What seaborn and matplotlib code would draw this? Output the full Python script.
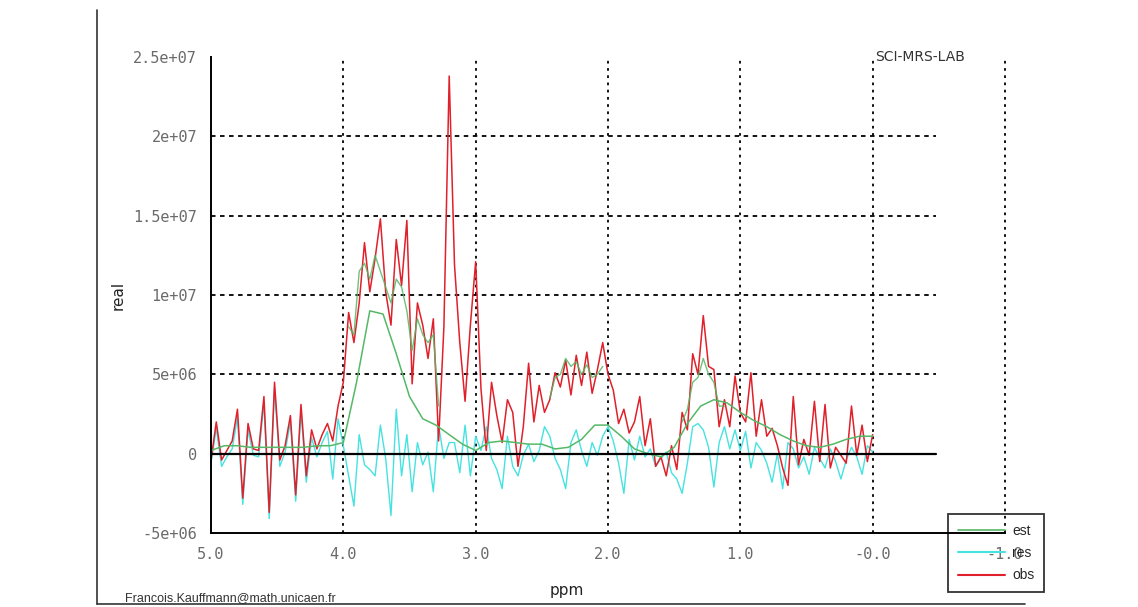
import numpy as np
import pandas as pd
import matplotlib
matplotlib.use('Agg')
import matplotlib.pyplot as plt
from matplotlib.lines import Line2D
import seaborn as sns

# chemical shift grids (ppm), values in units of 1e6
ppm_obs = np.linspace(5.0, 0.0, 126)
ppm_est = np.linspace(5.0, 0.0, 51)

obs = [
    # 5.00 -> 4.04
    -0.4, 2.0, -0.4, 0.2, 0.8, 2.8, -2.8, 1.9, 0.3, 0.2, 3.6, -3.7, 4.5,
    -0.4, 0.5, 2.4, -2.6, 3.1, -1.4, 1.5, 0.3, 1.2, 1.9, 0.8, 3.0,
    # 4.00 -> 3.04
    4.5, 8.9, 7.0, 9.5, 13.3, 10.2, 12.3, 14.8, 10.2, 8.1, 13.5, 10.6, 14.7,
    4.4, 9.5, 8.1, 6.0, 8.5, 0.8, 8.0, 23.8, 11.9, 7.0, 3.3, 8.1,
    # 3.00 -> 2.04
    12.1, 4.1, 0.2, 4.5, 2.4, 0.7, 3.4, 2.6, -0.8, 1.7, 5.7, 2.0, 4.3,
    2.6, 3.4, 5.1, 4.2, 5.9, 3.7, 6.2, 4.3, 6.4, 3.8, 5.3, 7.0,
    # 2.00 -> 1.04
    5.0, 4.0, 1.9, 2.8, 1.3, 2.0, 3.6, 0.5, 2.2, -0.8, -0.2, -1.4, 0.5,
    -1.0, 2.6, 1.5, 6.3, 5.0, 8.7, 5.5, 5.3, 1.7, 3.4, 1.7, 4.9,
    # 1.00 -> 0.00
    2.6, 2.0, 5.1, 1.1, 3.4, 1.1, 1.6, 0.5, -0.9, -2.0, 3.6, -0.7, 0.9,
    -0.1, 3.3, -0.5, 3.1, -0.9, 0.4, -0.1, -0.6, 3.0, -0.1, 1.8, -0.5, 1.2,
]

res = [
    # 5.00 -> 4.04
    -0.6, 1.6, -0.8, -0.2, 0.3, 2.3, -3.2, 1.5, -0.1, -0.2, 3.2, -4.1, 4.1,
    -0.8, 0.1, 2.0, -3.0, 2.7, -1.8, 1.0, -0.2, 0.7, 1.4, -1.6, 2.2,
    # 4.00 -> 3.04
    0.5, -1.4, -3.3, 1.2, -0.7, -1.0, -1.4, 1.8, -0.3, -3.9, 2.8, -1.4, 1.2,
    -2.4, 0.7, -0.7, 0.1, -2.4, 1.8, -0.3, 0.7, 0.7, -1.2, 1.8, -1.4,
    # 3.00 -> 2.04
    1.1, 0.2, 1.7, -0.3, -1.0, -2.2, 1.1, -0.8, -1.4, -0.1, 0.6, -0.5, 0.2,
    1.7, 1.1, -0.3, -1.0, -2.2, 0.7, 1.5, 0.2, -0.8, 0.7, -0.1, 1.1,
    # 2.00 -> 1.04
    1.7, 0.8, -0.6, -2.5, 0.9, -0.4, 1.1, -0.2, 0.3, -0.8, -0.3, 0.1, -1.2,
    -1.6, -2.5, -0.6, 1.7, 1.9, 1.5, 0.4, -2.1, 0.7, 1.7, 0.3, 1.5,
    # 1.00 -> 0.00
    0.2, 1.4, -0.9, 0.7, 0.2, -0.6, -1.8, 0.0, -2.2, 0.7, 0.3, -0.9, -0.2,
    -1.3, 0.4, -0.3, -0.9, 0.3, -0.5, -1.6, -0.4, 0.4, -0.2, -1.3, 0.5, 0.1,
]

# smooth estimate, 0.1 ppm steps
est = [
    0.2, 0.5, 0.5, 0.4, 0.4, 0.4, 0.4, 0.4, 0.5, 0.5,   # 5.0 -> 4.1
    0.7, 4.5, 9.0, 8.8, 6.3, 3.6, 2.2, 1.8, 1.2, 0.6,   # 4.0 -> 3.1
    0.2, 0.7, 0.8, 0.7, 0.6, 0.6, 0.3, 0.4, 0.9, 1.8,   # 3.0 -> 2.1
    1.8, 1.1, 0.3, 0.0, -0.2, 0.4, 1.9, 3.0, 3.4, 3.2,  # 2.0 -> 1.1
    2.6, 2.1, 1.7, 1.2, 0.8, 0.5, 0.4, 0.6, 0.9, 1.1,   # 1.0 -> 0.1
    1.1,                                                # 0.0
]

# green fit pieces lying over the observed signal (0.04 ppm steps)
fit_a_start, fit_a = 3.96, [8.0, 7.5, 11.5, 12.0, 11.0, 12.5, 11.5, 10.5, 9.5,
                            11.0, 10.5, 9.0, 6.5, 8.5, 7.5, 7.0, 7.5, 3.0]
fit_b_start, fit_b = 2.44, [3.5, 4.8, 5.0, 6.0, 5.5, 5.8, 5.0, 5.6, 4.8, 5.0, 5.5]
fit_c_start, fit_c = 1.44, [2.0, 2.8, 4.5, 4.8, 6.0, 5.0, 4.5, 3.0, 3.0]

yticks = [-5e6, 0, 5e6, 1e7, 1.5e7, 2e7, 2.5e7]
ytick_labels = ['-5e+06', '0', '5e+06', '1e+07', '1.5e+07', '2e+07', '2.5e+07']
xticks = [5.0, 4.0, 3.0, 2.0, 1.0, 0.0, -1.0]
xtick_labels = ['5.0', '4.0', '3.0', '2.0', '1.0', '-0.0', '-1.0']

df_obs = pd.DataFrame({'ppm': ppm_obs, 'obs': np.array(obs) * 1e6,
                       'res': np.array(res) * 1e6})
df_est = pd.DataFrame({'ppm': ppm_est, 'est': np.array(est) * 1e6})
pieces = []
for name, start, vals in [('a', fit_a_start, fit_a), ('b', fit_b_start, fit_b),
                          ('c', fit_c_start, fit_c)]:
    pieces.append(pd.DataFrame({'ppm': start - 0.04 * np.arange(len(vals)),
                                'fit': np.array(vals) * 1e6, 'piece': name}))
df_fit = pd.concat(pieces, ignore_index=True)

sns.set_style('white')
plt.rcParams['font.family'] = ['DejaVu Sans']

fig = plt.figure(figsize=(11.38, 6.07), dpi=100)
ax = fig.add_axes([211 / 1138, 1 - 533 / 607, (1005 - 211) / 1138, (533 - 57) / 607])

green = '#55b866'
sns.lineplot(data=df_obs, x='ppm', y='res', ax=ax, color='#45e3e0', lw=1.0,
             legend=False)
sns.lineplot(data=df_obs, x='ppm', y='obs', ax=ax, color='#e0202a', lw=1.1,
             legend=False)
sns.lineplot(data=df_fit, x='ppm', y='fit', units='piece', estimator=None,
             ax=ax, color=green, lw=1.0, alpha=0.85, legend=False)
sns.lineplot(data=df_est, x='ppm', y='est', ax=ax, color=green, lw=1.1,
             legend=False)

ax.set_xlim(5.0, -1.0)
ax.set_ylim(-5e6, 2.5e7)

# grid: dotted black, horizontal ones stop short of the right end
grid_x_end = -0.48
for yv in yticks[2:-1]:
    ax.plot([5.0, grid_x_end], [yv, yv], color='black', lw=1.3,
            ls=(0, (2.5, 2.5)), zorder=0.5)
for xv in xticks[1:]:
    ax.axvline(xv, color='black', lw=1.3, ls=(0, (1.5, 2.5)), zorder=0.5,
               clip_on=False)
ax.plot([5.0, grid_x_end], [0, 0], color='black', lw=1.6, zorder=3)

for side in ['top', 'right']:
    ax.spines[side].set_visible(False)
for side in ['left', 'bottom']:
    ax.spines[side].set_color('black')
    ax.spines[side].set_linewidth(1.4)

ax.set_xticks(xticks)
ax.set_xticklabels(xtick_labels)
ax.set_xticks(np.arange(-1.0, 5.01, 0.1), minor=True)
ax.set_yticks(yticks)
ax.set_yticklabels(ytick_labels)
ax.tick_params(axis='both', which='major', direction='inout', length=8,
               width=1.2, colors='black', labelcolor='#6a6a6a', labelsize=11,
               pad=6)
ax.tick_params(axis='x', which='minor', direction='inout', length=5, width=1.0)
for lab in ax.get_xticklabels() + ax.get_yticklabels():
    lab.set_fontfamily('DejaVu Sans Mono')

ax.set_xlabel('')
ax.set_ylabel('')
fig.text(118 / 1138, 1 - 295 / 607, 'real', rotation=90, ha='center',
         va='center', fontsize=11, color='#222222')
fig.text(567 / 1138, 1 - 590 / 607, 'ppm', ha='center', va='center',
         fontsize=11, color='#222222')
fig.text(920 / 1138, 1 - 57 / 607, 'SCI-MRS-LAB', ha='center', va='center',
         fontsize=10, color='#333333')
fig.text(125 / 1138, 1 - 598 / 607, 'Francois.Kauffmann@math.unicaen.fr',
         ha='left', va='center', fontsize=9, color='#333333',
         family=['Liberation Sans Narrow', 'Liberation Sans'])

# outer frame of the original plot
fig.add_artist(Line2D([97 / 1138, 97 / 1138], [1 - 10 / 607, 1 - 604 / 607],
                      color='#333333', lw=1.2))
fig.add_artist(Line2D([97 / 1138, 1025 / 1138], [1 - 604 / 607, 1 - 604 / 607],
                      color='#333333', lw=1.2))

handles = [Line2D([], [], color=green, lw=1.2),
           Line2D([], [], color='#45e3e0', lw=1.5),
           Line2D([], [], color='#e0202a', lw=1.5)]
leg = fig.legend(handles, ['est', 'res', 'obs'], loc='upper left',
                 bbox_to_anchor=(948 / 1138, 1 - 514 / 607), borderaxespad=0,
                 frameon=True, fancybox=False, handlelength=3.4,
                 handletextpad=0.5, borderpad=0.7, labelspacing=0.6,
                 prop={'family': ['Liberation Sans Narrow', 'Liberation Sans'],
                       'size': 10})
leg.get_frame().set_edgecolor('black')
leg.get_frame().set_linewidth(1.3)
leg.get_frame().set_facecolor('none')

fig.savefig('out.png', dpi=100)
